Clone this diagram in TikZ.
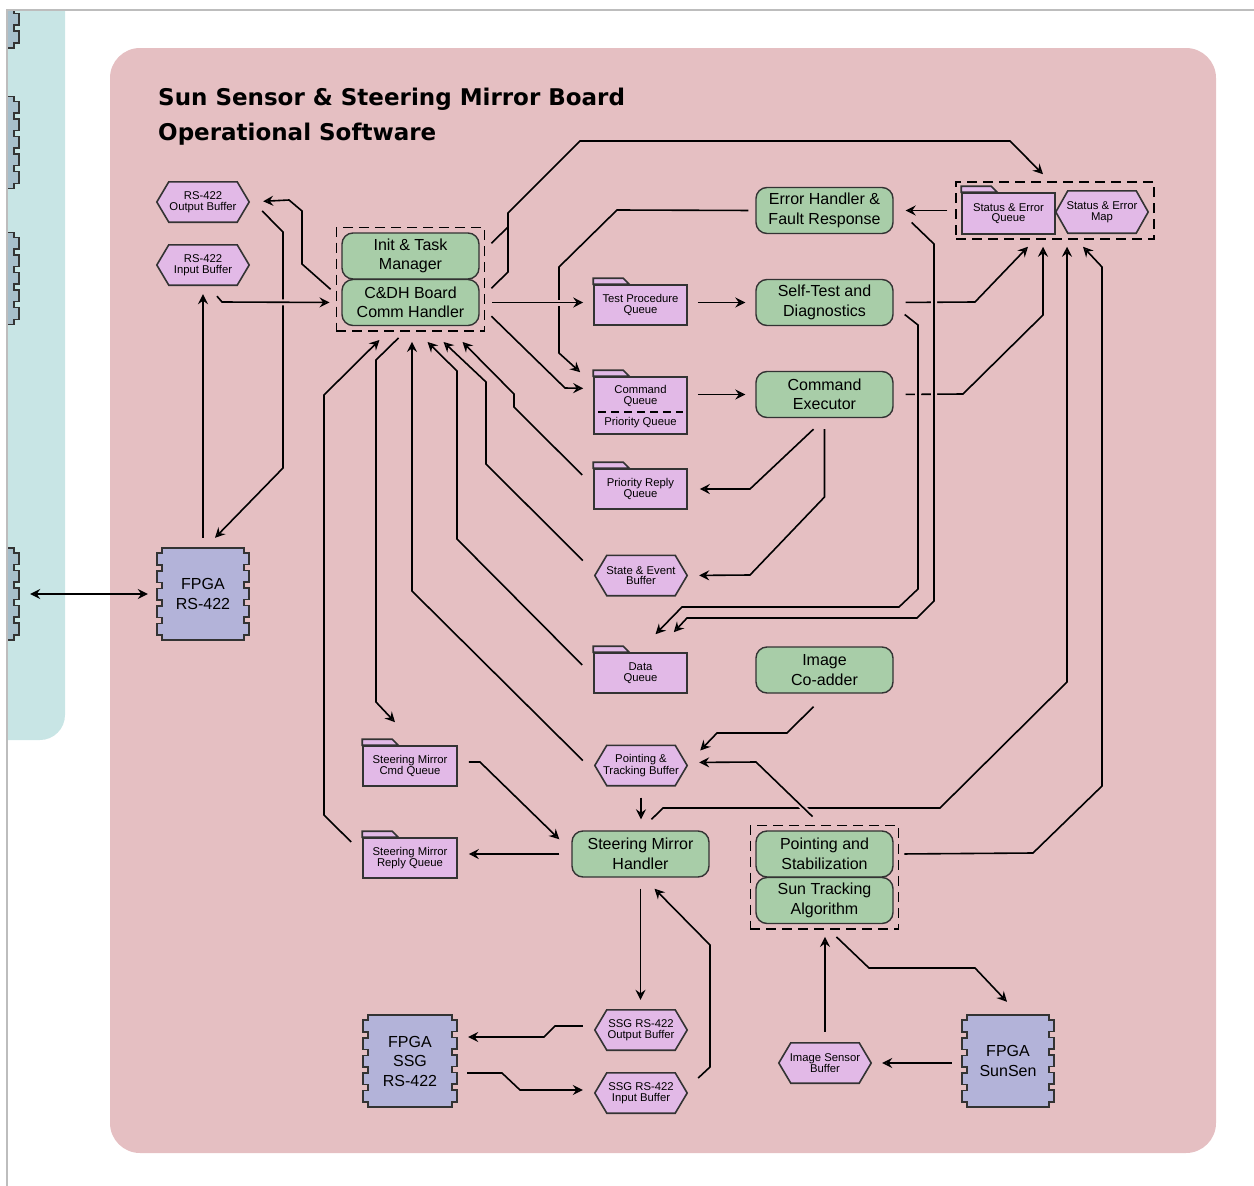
\documentclass[tikz,border=0pt]{standalone}
\usepackage{fontspec}
\setmainfont{Liberation Sans}
\newfontfamily\titlefont{DejaVu Sans}
\usepackage{xcolor}
\usetikzlibrary{positioning, arrows.meta, calc, fit}

\definecolor{panelpink}{HTML}{E5BFC2}
\definecolor{panelcyan}{HTML}{C8E5E5}
\definecolor{procgreen}{HTML}{A8CDA8}
\definecolor{lilac}{HTML}{E2B9E7}
\definecolor{chipblue}{HTML}{B3B3D9}
\definecolor{extchipc}{HTML}{A7BFCB}
\definecolor{edgegray}{HTML}{333333}
\definecolor{framegray}{HTML}{BDBDBD}

\pgfdeclarelayer{bg}
\pgfsetlayers{bg,main}

\newcommand{\smallq}{\fontsize{11.3}{10.5}\selectfont}
\newcommand{\boxfont}{\fontsize{16}{19.5}\selectfont}

% outlines drawn behind the named nodes
\newcommand{\chipoutline}[2]{%
  \filldraw[line width=1.5pt, draw=edgegray, fill=#2] (#1.north west) -- (#1.north east)
    -- ++(0,5) -- ++(5,0) -- ++(0,11.6)
    \foreach \k in {1,...,4}{ -- ++(-5,0) -- ++(0,6) -- ++(5,0) -- ++(0,11.6) }
    -- ++(-5,0) -- (#1.south east) -- (#1.south west)
    -- ++(0,-5) -- ++(-5,0) -- ++(0,-11.6)
    \foreach \k in {1,...,4}{ -- ++(5,0) -- ++(0,-6) -- ++(-5,0) -- ++(0,-11.6) }
    -- ++(5,0) -- cycle;}
\newcommand{\hexoutline}[1]{%
  \filldraw[line width=1.6pt, draw=edgegray, fill=lilac] (#1.west)
    -- ($(#1.north west)+(12,0)$) -- ($(#1.north east)+(-12,0)$) -- (#1.east)
    -- ($(#1.south east)+(-12,0)$) -- ($(#1.south west)+(12,0)$) -- cycle;}
\newcommand{\foldertab}[1]{%
  \filldraw[line width=1.6pt, draw=edgegray, fill=lilac] (#1.north west)
    -- ++(0,-6) -- ++(30,0) -- ++(6,6) -- cycle;}

\tikzset{
  proc/.style={draw=edgegray, fill=procgreen, line width=1.4pt, rounded corners=11pt,
    minimum width=137pt, minimum height=46pt, inner sep=1pt, align=center, font=\boxfont},
  queue/.style={draw=edgegray, fill=lilac, line width=1.6pt, minimum width=93pt,
    minimum height=40pt, inner sep=1pt, align=center, font=\smallq},
  buffer/.style={minimum width=92pt, minimum height=40pt, inner sep=1pt,
    align=center, font=\smallq},
  chip/.style={minimum width=82pt, minimum height=92pt, inner sep=0pt,
    align=center, font=\boxfont},
  grp/.style={draw=black, dash pattern=on 10pt off 6pt, line width=1.5pt, inner sep=5pt},
  qtip/.tip={Stealth[open, length=10pt, width=10pt, inset=3.5pt]},
  conn/.style={line width=1.6pt, shorten <=7pt, shorten >=9pt, -qtip},
  halo/.style={preaction={draw=panelpink, line width=6pt, -}},
}

\begin{document}
\begin{tikzpicture}[x=1pt, y=-1pt]
\useasboundingbox (0,0) rectangle (1254,1186);

\node[anchor=north west, inner sep=0pt, align=left,
  font=\titlefont\bfseries\fontsize{23}{35}\selectfont] (title) at (158,88)
  {Sun Sensor \& Steering Mirror Board\\Operational Software};

% left column
\foreach \n/\y in {a/2, b/142.5, c/278.5, d/594}
  \node[chip, minimum width=84pt] (ext\n) at (-28,\y) {};
\node[buffer] (rsout) at (203,202) {RS-422\\Output Buffer};
\node[buffer] (rsin) at (203,265) {RS-422\\Input Buffer};
\node[chip] (fpgars) at (203,594) {FPGA\\RS-422};

\node[proc] (init) at (410.5,256) {Init \& Task\\Manager};
\node[proc] (cdh) at (410.5,302.5) {C\&DH Board\\Comm Handler};
\node[grp, fit=(init)(cdh)] (commgrp) {};

% queues
\node[queue] (tpq) at (640.5,305) {Test Procedure\\Queue};
\node[queue, minimum height=57pt] (cmdq) at (640.5,405.5) {};
\node[font=\smallq, align=center, inner sep=0pt] (cmdqtxt) at (640.5,396) {Command\\Queue};
\node[font=\smallq, inner sep=0pt] (prioq) at (640.5,422.5) {Priority Queue};
\node[queue] (prq) at (640.5,489) {Priority Reply\\Queue};
\node[buffer] (seb) at (641,575.5) {State \& Event\\Buffer};
\node[queue] (dq) at (640.5,673) {Data\\Queue};
\node[buffer] (ptb) at (641,765.5) {Pointing \&\\Tracking Buffer};
\node[queue, minimum width=94pt] (smcq) at (410,766) {Steering Mirror\\Cmd Queue};
\node[queue, minimum width=94pt] (smrq) at (410,858) {Steering Mirror\\Reply Queue};

% tasks
\node[proc] (errh) at (824.5,210.5) {Error Handler \&\\Fault Response};
\node[proc] (selft) at (824.5,302.5) {Self-Test and\\Diagnostics};
\node[proc] (cmdex) at (824.5,394.5) {Command\\Executor};
\node[proc] (coadd) at (824.5,670) {Image\\Co-adder};
\node[proc] (smh) at (640.5,854) {Steering Mirror\\Handler};
\node[proc] (pstab) at (824.5,854) {Pointing and\\Stabilization};
\node[proc] (stalg) at (824.5,900.5) {Sun Tracking\\Algorithm};
\node[grp, fit=(pstab)(stalg)] (pgrp) {};

\node[queue, minimum height=41pt] (seq) at (1008.5,213.5) {Status \& Error\\Queue};
\node[buffer, minimum height=42pt] (sem) at (1102,212) {Status \& Error\\Map};
\node[grp, minimum width=198pt, minimum height=57pt] (segrp) at (1055,210.5) {};

% bottom row
\node[buffer] (ssgout) at (641,1030) {SSG RS-422\\Output Buffer};
\node[buffer] (ssgin) at (641,1093) {SSG RS-422\\Input Buffer};
\node[chip, minimum width=84pt] (fpgassg) at (410,1061) {FPGA\\SSG\\RS-422};
\node[buffer] (isb) at (825,1063) {Image Sensor\\Buffer};
\node[chip] (fpgass) at (1008,1061) {FPGA\\SunSen};

\begin{pgfonlayer}{bg}
  \fill[panelcyan] (7,10) -- (65,10) -- (65,715) arc[start angle=0, end angle=90, radius=25]
    -- (7,740) -- cycle;
  \begin{scope}
    \clip (7,10) rectangle (65,740);
    \foreach \n in {a,b,c,d} \chipoutline{ext\n}{extchipc};
  \end{scope}
  \fill[panelpink, rounded corners=30pt] (110,48) rectangle (1216,1153);
  \foreach \c in {fpgars,fpgassg,fpgass} \chipoutline{\c}{chipblue};
  \foreach \q in {tpq,cmdq,prq,dq,smcq,smrq,seq} \foldertab{\q};
  \foreach \b in {rsout,rsin,seb,ptb,ssgout,ssgin,isb,sem} \hexoutline{\b};
\end{pgfonlayer}
\draw[framegray, line width=1.2pt] (7,1186) -- (7,10) -- (1254,10);
\draw[line width=1.4pt, dash pattern=on 8pt off 5pt] ($(cmdq.west)+(5,6.5)$) -- ($(cmdq.east)+(-5,6.5)$);

% connectors
\draw[conn, qtip-qtip, shorten <=16pt, shorten >=14pt] (extd.east) -- (fpgars.west);
\draw[conn, shorten <=0pt, shorten >=0pt] ($(rsout.east)+(13,9)$) -- (283,232) -- (283,468)
  -- ($(fpgars.north)+(12,-10)$);
\draw[conn, shorten <=10pt] (fpgars.north) -- (rsin.south);
\draw[conn, halo, shorten <=0pt, shorten >=6pt] ($(rsin.south)+(14,11)$) -- (222,302)
  -- (cdh -| commgrp.west);
\draw[conn, shorten <=0pt, shorten >=14pt] ($(commgrp.west)+(-5,10)$) -- (302,264) -- (302,211)
  -- (289,200) -- (rsout.east);
\draw[conn, shorten <=0pt, shorten >=0pt] ($(commgrp.east)+(6,-36)$) -- (508,227) -- (508,213)
  -- (580,141) -- (1010,141) -- ($(segrp.north)+(-12,-7)$);
\draw[line width=1.6pt] ($(commgrp.east)+(6,9)$) -- (508,272) -- (508,227);
\draw[conn, shorten >=0pt] (errh.west) -- (617,210) -- (559,267) -- (559,353)
  -- ($(cmdq.north west)+(-13,-4)$);
\draw[conn, halo, shorten >=10pt] (cdh -| commgrp.east) -- (cdh -| tpq.west);
\draw[conn, shorten <=0pt, shorten >=10pt] ($(commgrp.east)+(6,37)$) -- (565,388)
  -- ($(cmdq.west)+(0,-17)$);
\draw[conn, shorten <=10pt, shorten >=10pt] (tpq.east |- selft) -- (selft.west);
\draw[conn, shorten <=10pt, shorten >=10pt] (cmdq.east |- cmdex) -- (cmdex.west);
\draw[conn, shorten <=8pt, shorten >=12pt] (segrp.west |- errh) -- (errh.east);
\draw[conn, shorten <=12pt, shorten >=0pt] (selft.east) -- (975,302) -- ($(segrp.south)+(-27,7)$);
\draw[conn, shorten <=12pt, shorten >=0pt] (cmdex.east) -- (963,394) -- (1043,315)
  -- ($(segrp.south)+(-12,7)$);
\draw[conn, shorten <=0pt, shorten >=0pt] ($(smh.north)+(11,-11)$) -- (663,808) -- (940,808)
  -- (1067,682) -- ($(segrp.south)+(12,7)$);
\draw[conn, shorten <=5pt, shorten >=0pt] (pgrp.east |- pstab) -- (1033,853) -- (1102,786)
  -- (1102,267) -- ($(segrp.south)+(28,7)$);
\draw[conn, halo, shorten <=0pt, shorten >=0pt] ($(errh.east)+(18,12)$) -- (934,244) -- (934,601)
  -- (917,618) -- (687,618) -- ($(dq.north east)+(-14,-20)$);
\draw[conn, halo, shorten <=0pt, shorten >=0pt] ($(selft.east)+(11,12)$) -- (918,325) -- (918,589)
  -- (899,607) -- (682,607) -- ($(dq.north)+(15,-18)$);
\draw[conn, shorten <=0pt, shorten >=12pt] ($(cmdex.south)+(-11,11)$) -- (750,489) -- (prq.east);
\draw[conn, shorten <=11pt, shorten >=12pt] (cmdex.south) -- (824.5,497) -- (750,575) -- (seb.east);
\draw[conn, shorten <=0pt, shorten >=0pt] ($(prq.west)+(-11,-14)$) -- (514,407) -- (514,394)
  -- ($(commgrp.south)+(52,10)$);
\draw[conn, shorten <=0pt, shorten >=0pt] ($(seb.west)+(-12,-15)$) -- (486,464) -- (486,382)
  -- ($(commgrp.south)+(33,10)$);
\draw[conn, shorten <=0pt, shorten >=0pt] ($(dq.west)+(-11,-8)$) -- (457,539) -- (457,371)
  -- ($(commgrp.south)+(17,10)$);
\draw[conn, shorten <=0pt, shorten >=0pt] ($(ptb.west)+(-12,-5)$) -- (412,591)
  -- ($(commgrp.south)+(1.5,10)$);
\draw[conn, shorten <=0pt, shorten >=0pt] ($(commgrp.south)+(-12,6)$) -- (376,360) -- (376,702)
  -- ($(smcq.north)+(-15,-23)$);
\draw[conn, shorten <=0pt, shorten >=0pt] ($(smrq.west)+(-11,-16)$) -- (324,815) -- (324,395)
  -- ($(commgrp.south)+(-31,8)$);
\draw[conn, shorten <=0pt, shorten >=0pt] ($(smcq.east)+(11,-4)$) -- (480,762)
  -- ($(smh.north west)+(-12,9)$);
\draw[conn, shorten <=12pt, shorten >=11pt] (smh.west) -- (smh.west -| smrq.east);
\draw[conn, shorten <=12pt, shorten >=11pt] (ptb.south) -- (ptb.south |- smh.north);
\draw[conn, shorten <=0pt, shorten >=0pt] ($(coadd.south)+(-11,13)$) -- (787,733) -- (717,733)
  -- ($(ptb.east)+(13,-15)$);
\draw[conn, halo, shorten <=0pt, shorten >=12pt] ($(pgrp.north)+(-12,-8)$) -- (756,762)
  -- ($(ptb.east)+(0,-3)$);
\draw[conn, shorten <=11pt, shorten >=10pt] (smh.south) -- (smh.south |- ssgout.north);
\draw[conn, shorten <=0pt, shorten >=0pt] ($(ssgin.east)+(11,-15)$) -- (710,1067) -- (710,945)
  -- ($(smh.south)+(14,11)$);
\draw[conn, shorten <=0pt, shorten >=0pt] ($(ssgout.west)+(-12,-4)$) -- (555,1026) -- (544,1037)
  -- ($(fpgassg.east)+(16,-24)$);
\draw[conn, shorten <=0pt, shorten >=0pt] ($(fpgassg.east)+(15,12)$) -- (502,1073) -- (520,1090)
  -- ($(ssgin.west)+(-12,-3)$);
\draw[conn, shorten <=11pt, shorten >=7pt] (isb.north) -- (isb.north |- pgrp.south);
\draw[conn, shorten <=0pt, shorten >=0pt] ($(pgrp.south)+(12,7)$) -- (869,968) -- (975,968)
  -- ($(fpgass.north)+(-1,-13)$);
\draw[conn, shorten <=15pt, shorten >=11pt] (fpgass.west |- isb) -- (isb.east);
\end{tikzpicture}
\end{document}
